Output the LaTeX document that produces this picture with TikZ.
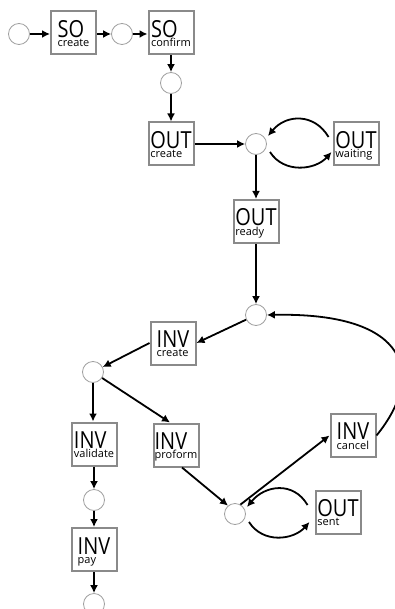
\documentclass[tikz,border=0pt]{standalone}
\usepackage{fontspec}
\usepackage{graphicx}
\setmainfont{Open Sans}
\usetikzlibrary{arrows.meta}

\newcommand\bigf{\fontsize{23.5}{23.5}\selectfont}
\newcommand\smallf{\fontsize{11}{11}\selectfont}
% transition label: large, slightly narrowed object name over a small action name
\newcommand\pn[2]{\vbox{\offinterlineskip\halign{##\hfil\cr
  \bigf\rule[-1pt]{0pt}{22.3pt}\scalebox{0.85}[1]{#1}\cr
  \smallf\rule[-3pt]{0pt}{11pt}#2\cr}}}

\definecolor{boxgray}{HTML}{8A8A8A}
\definecolor{placegray}{HTML}{A0A0A0}

\tikzset{
  trans/.style={draw=boxgray, line width=2pt, fill=white, rectangle,
    minimum width=45pt, minimum height=43pt, inner sep=0.5pt},
  place/.style={draw=placegray, line width=0.8pt, fill=white, circle,
    minimum size=21pt, inner sep=0pt},
  arr/.style={line width=1.8pt, -{Latex[length=8pt,width=8pt]}},
}

\begin{document}
\begin{tikzpicture}[x=1pt,y=-1pt]
\useasboundingbox (0,0) rectangle (395,609);

% places
\node[place] (p0) at (19,34) {};
\node[place] (p1) at (122,34) {};
\node[place] (p2) at (171,83) {};
\node[place] (p3) at (256,144) {};
\node[place] (p4) at (256,315) {};
\node[place] (p5) at (93,372) {};
\node[place] (p6) at (235,514) {};
\node[place] (p7) at (94,500) {};
\node[place] (p8) at (94,604) {};

% transitions
\node[trans] (soc)  at (73.5,33)  {\pn{SO}{create}};
\node[trans] (sof)  at (171,33)   {\pn{SO}{confirm}};
\node[trans] (outc) at (171,144)  {\pn{OUT}{create}};
\node[trans] (outw) at (356,144)  {\pn{OUT}{waiting}};
\node[trans] (outr) at (256,221.5){\pn{OUT}{ready}};
\node[trans] (invc) at (173,343)  {\pn{INV}{create}};
\node[trans] (invv) at (94,444)   {\pn{INV}{validate}};
\node[trans] (invp) at (176,445)  {\pn{INV}{proform}};
\node[trans] (invx) at (353,435.5){\pn{INV}{cancel}};
\node[trans] (outs) at (338,512)  {\pn{OUT}{sent}};
\node[trans] (invy) at (94,549.5) {\pn{INV}{pay}};

% sales order
\draw[arr] (p0) -- (p0 -| soc.west);
\draw[arr] (p1 -| soc.east) -- (p1);
\draw[arr] (p1) -- (p1 -| sof.west);
\draw[arr] (sof) -- (p2);
\draw[arr] (p2) -- (outc);

% outgoing shipment
\draw[arr] (outc) -- (p3);
\draw[arr] ([shift={(14,8)}]p3.center) .. controls +(14,22) and +(-16,18) .. ([shift={(-1,8)}]outw.west);
\draw[arr] ([shift={(-4,-7)}]outw.west) .. controls +(-14,-24) and +(18,-22) .. ([shift={(12,-8)}]p3.center);
\draw[arr] (p3) -- (outr);
\draw[arr] (outr) -- (p4);

% invoice
\draw[arr] (p4) -- (invc.east);
\draw[arr] (invc.west) -- (p5);
\draw[arr] (p5) -- (p5 |- invv.north);
\draw[arr] (p5) -- ([xshift=-6pt]invp.north);
\draw[arr] (invv) -- (p7);
\draw[arr] (p7) -- (invy);
\draw[arr] (invy) -- (p8);
\draw[arr] ([xshift=6pt]invp.south) -- (p6.130);
\draw[arr] (p6.60) -- (invx.west);
\draw[arr] (invx.east) .. controls +(49,-60) and +(144,-3) .. (p4.east);

% shipment sent loop
\draw[arr] ([shift={(-7,-7)}]outs.west) .. controls +(-14,-24) and +(18,-22) .. ([shift={(12,-7)}]p6.center);
\draw[arr] ([shift={(14,8)}]p6.center) .. controls +(14,22) and +(-16,18) .. ([shift={(-5,10)}]outs.west);
\end{tikzpicture}
\end{document}
